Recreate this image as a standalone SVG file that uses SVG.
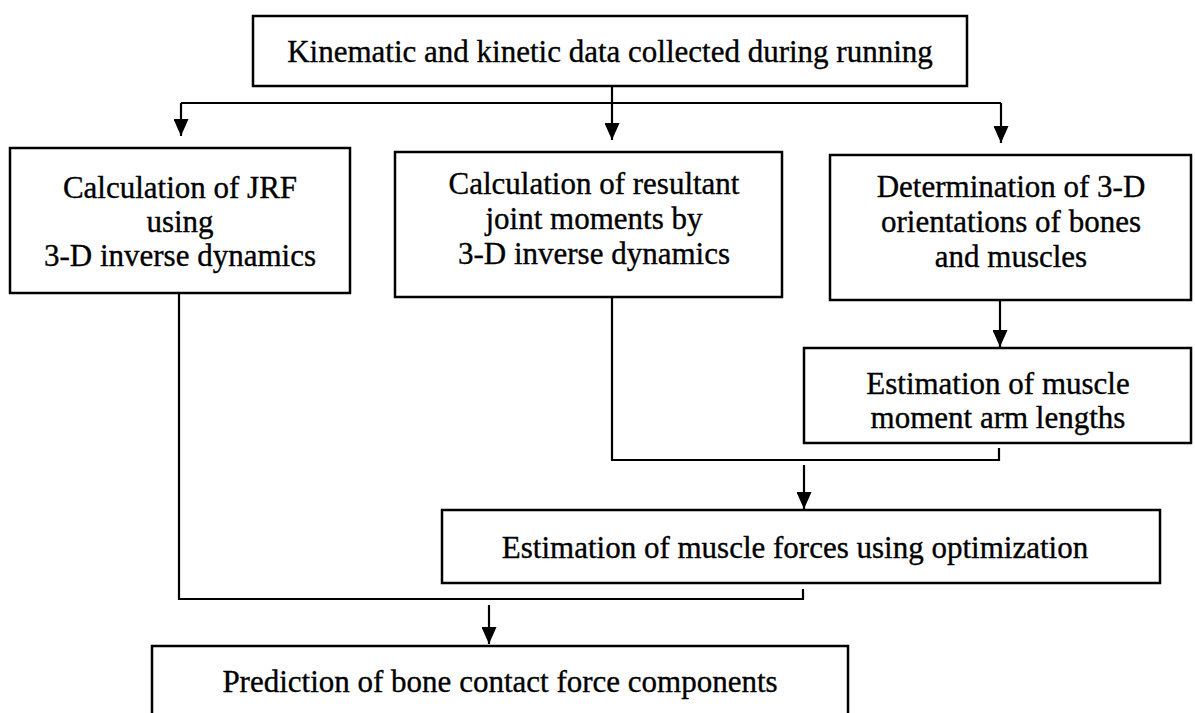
<svg xmlns="http://www.w3.org/2000/svg" width="1195" height="713" viewBox="0 0 1195 713">
<style>
.box{fill:#fff;stroke:#000;stroke-width:2.5}
.t{font-family:"Liberation Serif","Times New Roman",serif;font-size:31px;fill:#000;stroke:#000;stroke-width:0.35;text-anchor:middle}
.c{fill:none;stroke:#000;stroke-width:2.2}
</style>
<defs>
<marker id="ah" viewBox="0 0 17 15" refX="17" refY="7.5" markerWidth="17" markerHeight="15" markerUnits="userSpaceOnUse" orient="auto">
<path d="M0,0 L17,7.5 L0,15 Z" fill="#000"/>
</marker>
</defs>
<rect width="1195" height="713" fill="#fff"/>
<g id="connectors">
<path class="c" d="M612,86 V103"/>
<path class="c" d="M181,103 H1001"/>
<path class="c" d="M181,103 V136" marker-end="url(#ah)"/>
<path class="c" d="M612,103 V140" marker-end="url(#ah)"/>
<path class="c" d="M1001,103 V143" marker-end="url(#ah)"/>
<path class="c" d="M1000,300 V347" marker-end="url(#ah)"/>
<path class="c" d="M612,297 V460 H999 V448"/>
<path class="c" d="M804,465 V509" marker-end="url(#ah)"/>
<path class="c" d="M179,293 V599 H803 V589"/>
<path class="c" d="M489,605 V644" marker-end="url(#ah)"/>
</g>
<g id="n-top">
<rect class="box" x="253" y="16" width="714" height="70"/>
<text class="t" x="610" y="62">Kinematic and kinetic data collected during running</text>
</g>
<g id="n-jrf">
<rect class="box" x="10" y="148" width="340" height="145"/>
<text class="t" x="180" y="198">Calculation of JRF</text>
<text class="t" x="180" y="232">using</text>
<text class="t" x="180" y="266">3-D inverse dynamics</text>
</g>
<g id="n-moments">
<rect class="box" x="395" y="152" width="387" height="145"/>
<text class="t" x="594" y="194">Calculation of resultant</text>
<text class="t" x="594" y="229">joint moments by</text>
<text class="t" x="594" y="264">3-D inverse dynamics</text>
</g>
<g id="n-orient">
<rect class="box" x="830" y="155" width="361" height="145"/>
<text class="t" x="1011" y="197">Determination of 3-D</text>
<text class="t" x="1011" y="232">orientations of bones</text>
<text class="t" x="1011" y="267">and muscles</text>
</g>
<g id="n-moment-arm">
<rect class="box" x="804" y="348" width="387" height="95"/>
<text class="t" x="998" y="394">Estimation of muscle</text>
<text class="t" x="998" y="428">moment arm lengths</text>
</g>
<g id="n-forces">
<rect class="box" x="442" y="510" width="718" height="73"/>
<text class="t" x="795" y="558">Estimation of muscle forces using optimization</text>
</g>
<g id="n-prediction">
<rect class="box" x="152" y="646" width="696" height="90"/>
<text class="t" x="500" y="692">Prediction of bone contact force components</text>
</g>
</svg>
